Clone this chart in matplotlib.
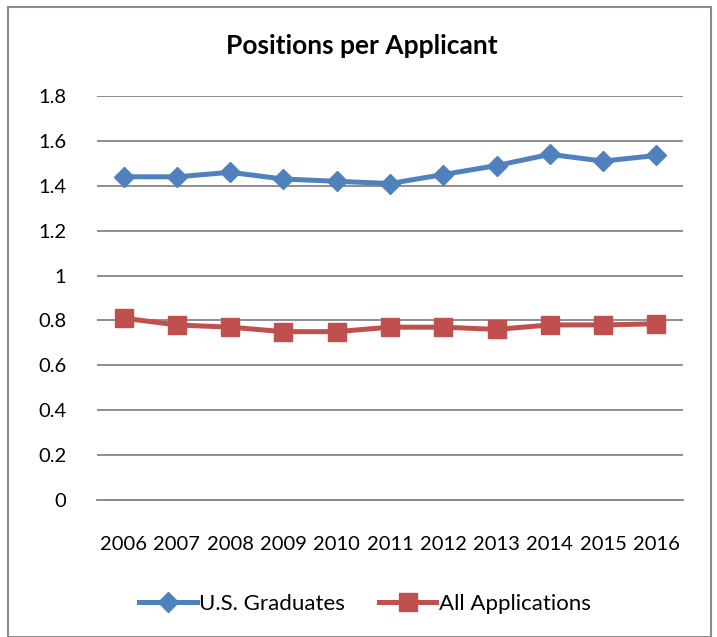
import matplotlib
matplotlib.use("Agg")
import matplotlib.pyplot as plt
from matplotlib.patches import Rectangle

years = ["2006", "2007", "2008", "2009", "2010", "2011", "2012", "2013", "2014", "2015", "2016"]
us_graduates = [1.44, 1.44, 1.46, 1.43, 1.42, 1.41, 1.45, 1.49, 1.54, 1.51, 1.535]
all_applications = [0.81, 0.78, 0.77, 0.75, 0.75, 0.77, 0.77, 0.76, 0.78, 0.78, 0.785]
y_ticks = [0, 0.2, 0.4, 0.6, 0.8, 1.0, 1.2, 1.4, 1.6, 1.8]
y_labels = ["0", "0.2", "0.4", "0.6", "0.8", "1", "1.2", "1.4", "1.6", "1.8"]

plt.rcParams['font.family'] = ['Lato', 'DejaVu Sans']

fig = plt.figure(figsize=(7.17, 6.37), dpi=100)
fig.patches.append(Rectangle((8/717, 0.0), 703/717, 1 - 7/637 - 0.0, transform=fig.transFigure,
                             fill=False, edgecolor="#8c8c8c", linewidth=1.5))
ax = fig.add_axes([97/717, 137/637, 586/717, 404/637])

x = list(range(len(years)))
ax.plot(x, us_graduates, color="#4F81BD", linewidth=3.6, marker="D", markersize=10,
        label="U.S. Graduates", zorder=3)
ax.plot(x, all_applications, color="#C0504D", linewidth=3.6, marker="s", markersize=12.5,
        label="All Applications", zorder=3)

ax.set_xlim(-0.5, len(years) - 0.5)
ax.set_ylim(0, 1.8)
ax.set_yticks(y_ticks)
ax.set_yticklabels(y_labels)
ax.set_xticks(x)
ax.set_xticklabels(years)
ax.tick_params(axis="both", length=0, labelsize=14.5, colors="black")
ax.tick_params(axis="y", pad=22)
ax.tick_params(axis="x", pad=26)
for lbl in ax.get_yticklabels():
    lbl.set_horizontalalignment("right")
ax.grid(axis="y", color="#868686", linewidth=1.3)
ax.set_axisbelow(True)
for s in ["top", "left", "right"]:
    ax.spines[s].set_visible(False)
ax.spines["bottom"].set_color("#868686")
ax.spines["bottom"].set_linewidth(1.3)

fig.text(362/717, 1 - 46/637, "Positions per Applicant", ha="center", va="center",
         fontsize=19, fontweight="bold")

fig.legend(loc="center", bbox_to_anchor=(365/717, 1 - 604/637), ncol=2, frameon=False,
           fontsize=16, handlelength=2.6, columnspacing=1.5, handletextpad=0.1)

fig.savefig("out.png", dpi=100)
